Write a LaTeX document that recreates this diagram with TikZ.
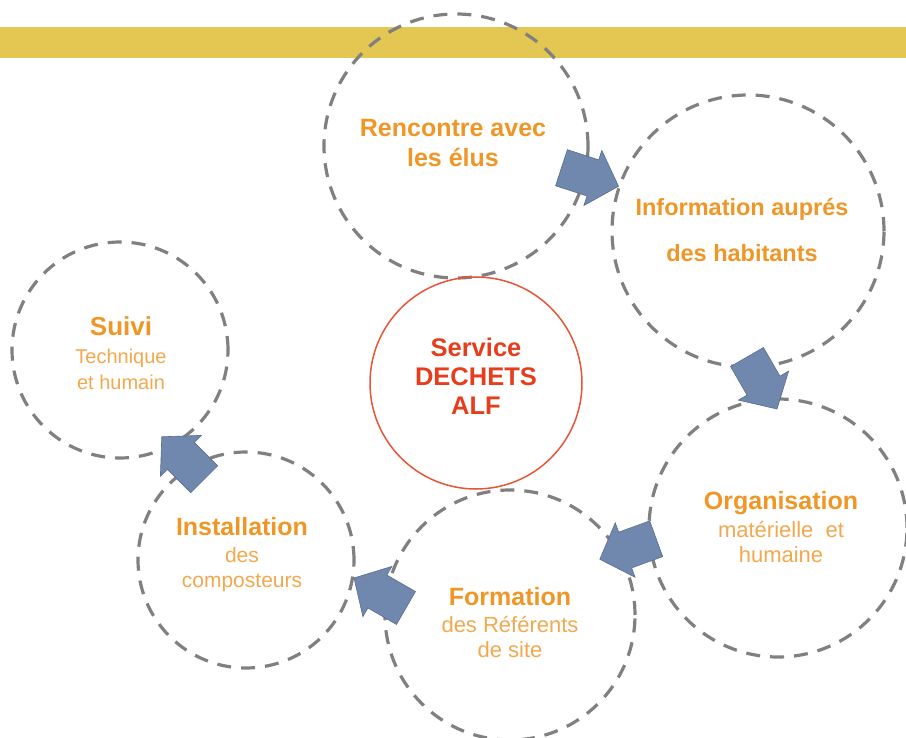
\documentclass[tikz,border=0pt]{standalone}
\usepackage{fontspec}
\setmainfont{Liberation Sans}
\definecolor{bandcol}{RGB}{228,198,82}
\definecolor{dashgray}{RGB}{128,128,128}
\definecolor{arrowblue}{RGB}{112,136,174}
\definecolor{ttlcol}{RGB}{240,150,38}
\definecolor{subcol}{RGB}{243,168,78}
\definecolor{redtxt}{RGB}{230,62,28}
\definecolor{redcirc}{RGB}{232,84,56}
\tikzset{
  dcirc/.style={circle, draw=dashgray, line width=3.2pt, dash pattern=on 14pt off 10pt, inner sep=0pt},
  ttl/.style={text=ttlcol, inner sep=0pt, anchor=base, font=\fontsize{25}{30}\selectfont\bfseries},
  subt/.style={text=subcol, inner sep=0pt, anchor=base, font=\fontsize{21}{25}\selectfont},
  redt/.style={text=redtxt, inner sep=0pt, anchor=base, font=\fontsize{25.5}{30}\selectfont\bfseries},
  blockarrow/.pic={\fill[arrowblue, draw=arrowblue!80!black, line width=0.6pt]
     (-30,-19) -- (3,-19) -- (3,-29) -- (30,0) -- (3,29) -- (3,19) -- (-30,19) -- cycle;}
}
\begin{document}
\begin{tikzpicture}[x=1pt,y=-1pt]
\useasboundingbox (0,0) rectangle (906,738);
\fill[bandcol] (0,27) rectangle (906,58);
% circles
\node[dcirc, minimum size=264pt] (c1) at (456,146) {};
\node[dcirc, minimum size=272pt] (c2) at (748,231) {};
\node[dcirc, minimum size=258pt] (c3) at (778,528) {};
\node[dcirc, minimum size=250pt] (c4) at (510,615) {};
\node[dcirc, minimum size=216pt] (c5) at (246,560) {};
\node[dcirc, minimum size=216pt] (c6) at (120,350) {};
\node[circle, draw=redcirc, line width=1.5pt, minimum size=212pt, inner sep=0pt] (c0) at (476,383) {};
% texts
\node[ttl] (t1a) at (453,137) {Rencontre avec};
\node[ttl] (t1b) at (453,167) {les élus};
\node[ttl, font=\fontsize{23.5}{28}\selectfont\bfseries] (t2a) at (742,216) {Information auprés};
\node[ttl, font=\fontsize{23.5}{28}\selectfont\bfseries] (t2b) at (742,262) {des habitants};
\node[ttl] (t3a) at (781,509) {Organisation};
\node[subt, font=\fontsize{22}{26}\selectfont] (t3b) at (781,537) {matérielle\ \ et};
\node[subt, font=\fontsize{22}{26}\selectfont] (t3c) at (781,562) {humaine};
\node[ttl] (t4a) at (510,605) {Formation};
\node[subt, font=\fontsize{22}{26}\selectfont] (t4b) at (510,632) {des Référents};
\node[subt, font=\fontsize{22}{26}\selectfont] (t4c) at (510,657) {de site};
\node[ttl] (t5a) at (242,535) {Installation};
\node[subt] (t5b) at (242,562) {des};
\node[subt] (t5c) at (242,587) {composteurs};
\node[ttl, font=\fontsize{26}{30}\selectfont\bfseries] (t6a) at (121,336) {Suivi};
\node[subt, font=\fontsize{20}{24}\selectfont] (t6b) at (121,363) {Technique};
\node[subt, font=\fontsize{20}{24}\selectfont] (t6c) at (121,389) {et humain};
\node[redt] (t0a) at (476,356) {Service};
\node[redt] (t0b) at (476,385) {DECHETS};
\node[redt] (t0c) at (476,414) {ALF};
% arrows
\pic[rotate=-18] (a1) at (590,177) {blockarrow};
\pic[rotate=-60] (a2) at (762,383) {blockarrow};
\pic[rotate=200] (a3) at (628,549) {blockarrow};
\pic[rotate=150] (a4) at (380,593) {blockarrow};
\pic[rotate=135] (a5) at (183,458) {blockarrow};
\end{tikzpicture}
\end{document}
